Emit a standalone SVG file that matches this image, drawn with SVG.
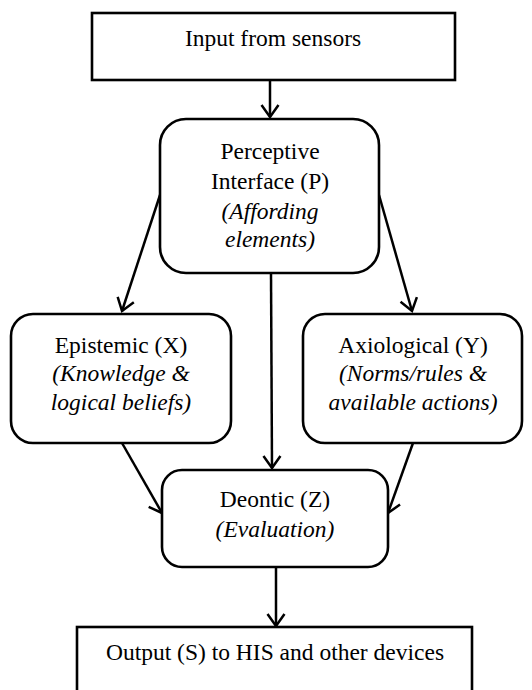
<svg xmlns="http://www.w3.org/2000/svg" width="532" height="690" viewBox="0 0 532 690">
<style>
.box{fill:#fff;stroke:#000;stroke-width:2.6}
.t{font-family:'Liberation Serif','Times New Roman',serif;font-size:23.5px;fill:#000;text-anchor:middle}
.i{font-style:italic}
.c{fill:none;stroke:#000;stroke-width:2.5}
</style>
<defs>
<marker id="ah" viewBox="-15 -11 17 22" markerWidth="17" markerHeight="22" refX="0" refY="0" orient="auto" markerUnits="userSpaceOnUse">
<path d="M-12,-8.5 L0,0 L-12,8.5" fill="none" stroke="#000" stroke-width="2.5"/>
</marker>
</defs>
<g id="connectors">
<line class="c" x1="270" y1="80" x2="270" y2="117" marker-end="url(#ah)"/>
<line class="c" x1="160" y1="195" x2="122" y2="311" marker-end="url(#ah)"/>
<line class="c" x1="379" y1="195" x2="412" y2="311" marker-end="url(#ah)"/>
<line class="c" x1="271" y1="273" x2="272" y2="468" marker-end="url(#ah)"/>
<line class="c" x1="122" y1="443" x2="162" y2="513" marker-end="url(#ah)"/>
<line class="c" x1="413" y1="443" x2="388" y2="513" marker-end="url(#ah)"/>
<line class="c" x1="276" y1="567" x2="276" y2="626" marker-end="url(#ah)"/>
</g>
<g id="input">
<rect class="box" x="92" y="13" width="363" height="67"/>
<text class="t" x="273" y="46">Input from sensors</text>
</g>
<g id="perceptive">
<rect class="box" x="160" y="119" width="219" height="154" rx="26"/>
<text class="t" x="270" y="159">Perceptive</text>
<text class="t" x="270" y="189">Interface (P)</text>
<text class="t i" x="270" y="219">(Affording</text>
<text class="t i" x="270" y="247">elements)</text>
</g>
<g id="epistemic">
<rect class="box" x="11" y="314" width="220" height="129" rx="22"/>
<text class="t" x="121" y="353">Epistemic (X)</text>
<text class="t i" x="121" y="381">(Knowledge &amp;</text>
<text class="t i" x="121" y="410">logical beliefs)</text>
</g>
<g id="axiological">
<rect class="box" x="303" y="314" width="219" height="129" rx="22"/>
<text class="t" x="413" y="353">Axiological (Y)</text>
<text class="t i" x="413" y="381">(Norms/rules &amp;</text>
<text class="t i" x="413" y="410">available actions)</text>
</g>
<g id="deontic">
<rect class="box" x="162" y="470" width="226" height="97" rx="20"/>
<text class="t" x="275" y="507">Deontic (Z)</text>
<text class="t i" x="275" y="537">(Evaluation)</text>
</g>
<g id="output">
<rect class="box" x="77" y="627" width="395" height="80"/>
<text class="t" x="275" y="660">Output (S) to HIS and other devices</text>
</g>
</svg>
